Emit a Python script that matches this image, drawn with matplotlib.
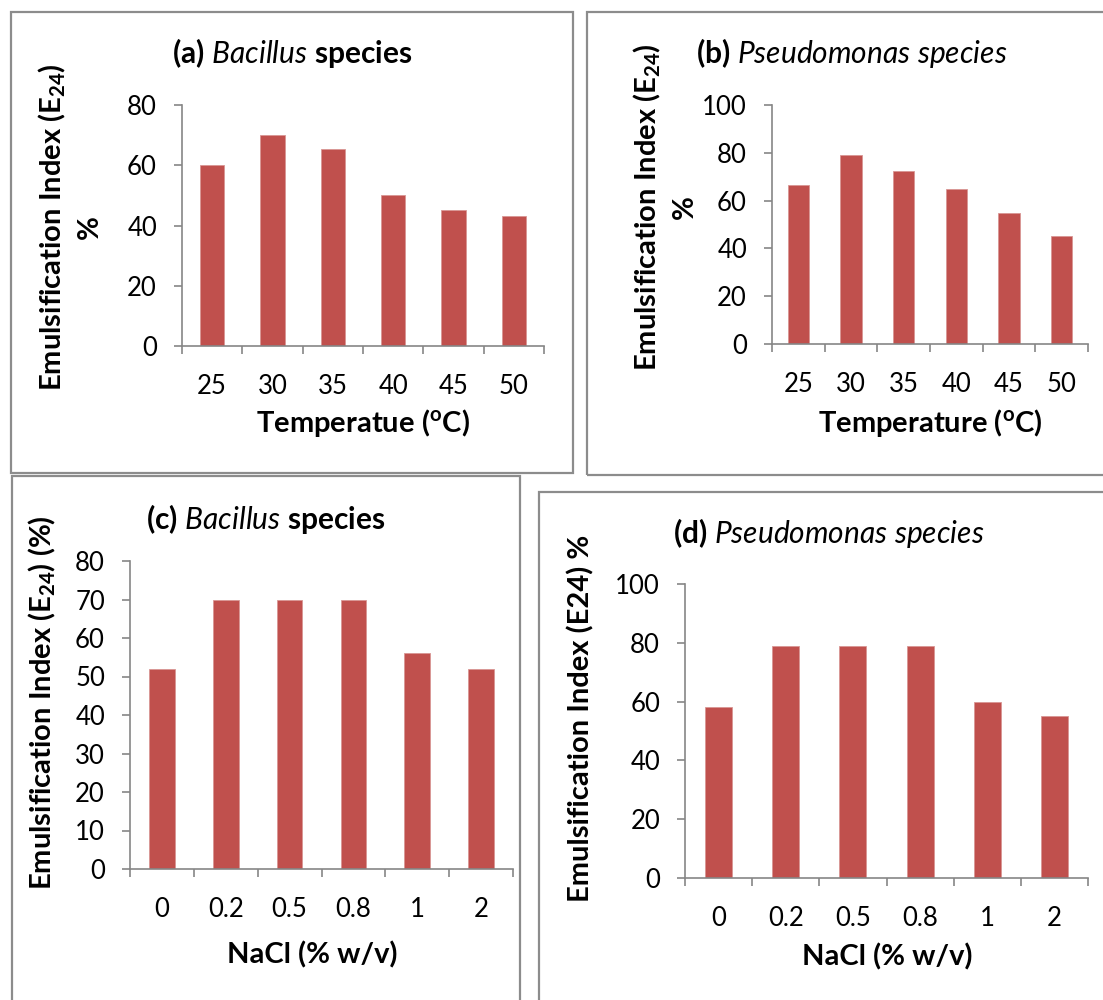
import matplotlib

matplotlib.use("Agg")
import matplotlib.pyplot as plt
from matplotlib.patches import Rectangle
from matplotlib.ticker import FixedLocator, NullFormatter

plt.rcParams["font.family"] = ["Lato", "DejaVu Sans"]
plt.rcParams["mathtext.fontset"] = "custom"
plt.rcParams["mathtext.rm"] = "Lato:bold"
plt.rcParams["mathtext.bf"] = "Lato:bold"
plt.rcParams["mathtext.it"] = "Lato:italic"

temps = ["25", "30", "35", "40", "45", "50"]
nacl = ["0", "0.2", "0.5", "0.8", "1", "2"]
bacillus_temp = [60, 70, 65.5, 50, 45, 43]
pseudo_temp = [66.5, 79, 72.5, 65, 55, 45]
bacillus_nacl = [52, 70, 70, 70, 56, 52]
pseudo_nacl = [58, 79, 79, 79, 60, 55]

W, H = 1103, 1000
BAR = "#C0504D"
AXIS = "#868686"
FRAME = "#8C8C8C"
TICK_FS = 18.5
LABEL_FS = 21
TITLE_FS = 21.5

fig = plt.figure(figsize=(W / 100, H / 100), dpi=100)


def frame(x0, y0, x1, y1):
    fig.patches.append(Rectangle((x0 / W, 1 - y1 / H), (x1 - x0) / W, (y1 - y0) / H,
                                 transform=fig.transFigure, fill=False,
                                 edgecolor=FRAME, linewidth=1.6))


def txt(x, y, s, **kw):
    fig.text(x / W, 1 - y / H, s, ha="center", va="center", **kw)


def panel(x0, x1, ytop, ybot, cats, vals, ymax, ystep):
    ax = fig.add_axes([x0 / W, 1 - ybot / H, (x1 - x0) / W, (ybot - ytop) / H])
    pos = list(range(len(cats)))
    ax.bar(pos, vals, width=0.4, color=BAR, edgecolor="#D99694", linewidth=0.6, zorder=2)
    ax.set_xlim(-0.5, len(cats) - 0.5)
    ax.set_ylim(0, ymax)
    ax.set_yticks(range(0, ymax + 1, ystep))
    ax.xaxis.set_major_locator(FixedLocator([p - 0.5 for p in range(len(cats) + 1)]))
    ax.xaxis.set_major_formatter(NullFormatter())
    ax.xaxis.set_minor_locator(FixedLocator(pos))
    ax.set_xticklabels(cats, minor=True)
    for side in ["top", "right"]:
        ax.spines[side].set_visible(False)
    for side in ["left", "bottom"]:
        ax.spines[side].set_color(AXIS)
        ax.spines[side].set_linewidth(1.2)
    ax.tick_params(axis="y", which="major", direction="out", length=6, width=1.2,
                   color=AXIS, labelsize=TICK_FS, pad=12, labelcolor="black")
    ax.tick_params(axis="x", which="major", direction="out", length=6, width=1.2, color=AXIS)
    ax.tick_params(axis="x", which="minor", length=0, labelsize=TICK_FS, pad=20)
    ax.set_facecolor("none")
    return ax


# frames
frame(11, 12, 573, 473)
frame(587, 12, 1110, 475)
frame(12, 476, 520, 1010)
frame(539, 492, 1110, 1010)

# (a)
panel(182, 544, 105, 346, temps, bacillus_temp, 80, 20)
txt(292, 53, r"$\mathbf{(a)}\ \mathit{Bacillus}\ \mathbf{species}$", fontsize=TITLE_FS)
txt(363, 423, r"Temperatue ($^{\mathbf{o}}$C)", fontsize=LABEL_FS, fontweight="bold")
txt(70, 227, "Emulsification Index (E$_{24}$)\n%", fontsize=LABEL_FS, fontweight="bold",
    rotation=90, linespacing=1.4)

# (b)
panel(772, 1088, 105, 344, temps, pseudo_temp, 100, 20)
txt(852, 53, r"$\mathbf{(b)}\ \mathit{Pseudomonas\ species}$", fontsize=TITLE_FS)
txt(930, 423, r"Temperature ($^{\mathbf{o}}$C)", fontsize=LABEL_FS, fontweight="bold")
txt(665, 207, "Emulsification Index (E$_{24}$)\n%", fontsize=LABEL_FS, fontweight="bold",
    rotation=90, linespacing=1.4)

# (c)
panel(130, 513, 561, 869, nacl, bacillus_nacl, 80, 10)
txt(266, 519, r"$\mathbf{(c)}\ \mathit{Bacillus}\ \mathbf{species}$", fontsize=TITLE_FS)
txt(312, 955, "NaCl (% w/v)", fontsize=LABEL_FS, fontweight="bold")
txt(42, 703, "Emulsification Index (E$_{24}$) (%)", fontsize=LABEL_FS, fontweight="bold", rotation=90)

# (d)
panel(685, 1088, 584, 878, nacl, pseudo_nacl, 100, 20)
txt(829, 533, r"$\mathbf{(d)}\ \mathit{Pseudomonas\ species}$", fontsize=TITLE_FS)
txt(887, 957, "NaCl (% w/v)", fontsize=LABEL_FS, fontweight="bold")
txt(581, 718, "Emulsification Index (E24) %", fontsize=LABEL_FS, fontweight="bold", rotation=90)

fig.savefig("out.png", dpi=100)
